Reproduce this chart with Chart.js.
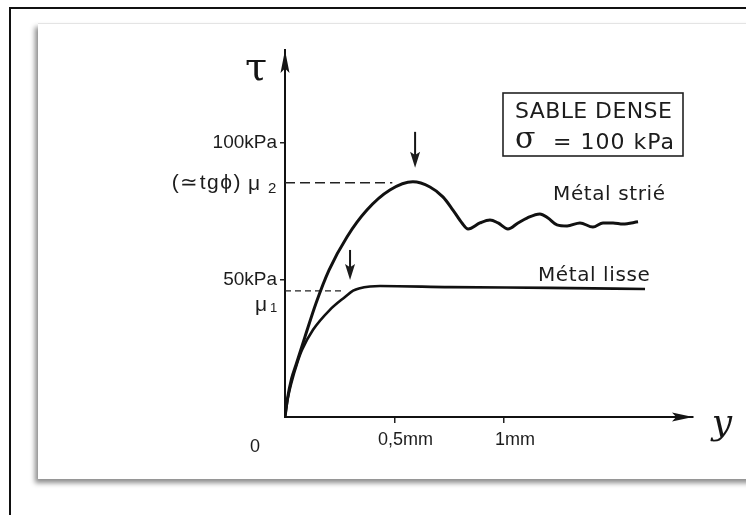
<!DOCTYPE html>
<html>
<head>
<meta charset="utf-8">
<script src="https://cdn.jsdelivr.net/npm/chart.js@4/dist/chart.umd.min.js"></script>
<style>
  html, body { margin: 0; padding: 0; background: #fff; width: 746px; height: 515px; overflow: hidden; }
  .frame { position: absolute; left: 9px; top: 7px; width: 780px; height: 560px; border-left: 2px solid #111; border-top: 2px solid #111; }
  .card { position: absolute; left: 38px; top: 23px; width: 780px; height: 455px; background: #fff;
          border-top: 1px solid #e4e4e4; box-shadow: -3px 4px 5px rgba(0,0,0,0.45); }
  #wrap { position: absolute; left: 0; top: 0; width: 746px; height: 515px; }
</style>
</head>
<body>
<div class="frame"></div>
<div class="card"></div>
<div id="wrap"><canvas id="c" width="746" height="515"></canvas></div>
<script>
// Axis ticks (displacement y in mm, shear stress tau in kPa)
const displacementTicks = [0.5, 1];
const displacementLabels = ['0,5mm', '1mm'];
const stressTicks = [50, 100];
const stressLabels = ['50kPa', '100kPa'];

// Striated metal interface: peak then oscillating residual
const striatedX = [0, 0.012, 0.030, 0.050, 0.091, 0.142, 0.201, 0.283, 0.374, 0.479, 0.584, 0.662, 0.721, 0.767, 0.808, 0.836,
                   0.890, 0.936, 0.973, 1.018, 1.064, 1.105, 1.164, 1.201, 1.242, 1.288, 1.347, 1.406, 1.452, 1.498, 1.543, 1.612];
const striatedY = [0, 7.0, 14.0, 19.0, 29.2, 41.6, 53.6, 65.7, 75.5, 82.8, 85.8, 83.9, 80.3, 75.5, 70.8, 68.6,
                   70.8, 71.9, 70.8, 68.6, 70.8, 72.6, 74.1, 72.6, 70.1, 69.7, 70.8, 69.3, 70.8, 70.8, 70.4, 71.2];

// Smooth metal interface: quick rise to a plateau
const smoothX = [0, 0.012, 0.031, 0.055, 0.078, 0.128, 0.205, 0.274, 0.311, 0.342, 0.388, 0.434, 0.753, 1.210, 1.644];
const smoothY = [0, 6.5, 13.0, 19.5, 24.5, 31.8, 39.1, 43.8, 46.1, 47.0, 47.6, 47.8, 47.4, 47.1, 46.7];

// Friction levels and how far their guide lines run
const mu2 = 85.5, mu2Reach = 0.49;
const mu1 = 46.0, mu1Reach = 0.27;

// Peak markers (downward arrows): x position and arrow tip level
const peakMarkerX = [0.594, 0.297];
const peakMarkerTip = [90.9, 50.0];

const curveNames = ['Métal strié', 'Métal lisse'];

const pts = (xs, ys) => xs.map((x, i) => ({ x: x, y: ys[i] }));

function arrowHead(ctx, tx, ty, dx, dy, len, hw) {
  const px = -dy, py = dx;
  ctx.beginPath();
  ctx.moveTo(tx, ty);
  ctx.lineTo(tx - dx * len + px * hw, ty - dy * len + py * hw);
  ctx.lineTo(tx - dx * len * 0.8, ty - dy * len * 0.8);
  ctx.lineTo(tx - dx * len - px * hw, ty - dy * len - py * hw);
  ctx.closePath();
  ctx.fill();
}

function spacing(ctx, v) { try { ctx.letterSpacing = v; } catch (e) {} }

const sketchAnnotations = {
  id: 'sketchAnnotations',
  afterDraw(chart) {
    const ctx = chart.ctx;
    const xs = chart.scales.x, ys = chart.scales.y;
    const a = chart.chartArea;
    const ink = '#151515';
    ctx.save();
    ctx.fillStyle = ink;
    ctx.strokeStyle = ink;

    // axis arrows
    arrowHead(ctx, a.right, a.bottom, 1, 0, 21, 4.5);
    arrowHead(ctx, a.left, a.top, 0, -1, 23, 4.5);

    // axis names
    ctx.textAlign = 'center';
    ctx.textBaseline = 'middle';
    ctx.font = '40px "DejaVu Serif"';
    ctx.fillText('τ', a.left - 29, a.top + 20);
    ctx.font = 'italic 36px "DejaVu Serif"';
    ctx.fillText('y', a.right + 29, a.bottom + 8);

    // origin label
    ctx.font = '18px "Liberation Sans"';
    ctx.fillStyle = '#1c1c1c';
    ctx.fillText('0', xs.getPixelForValue(0) - 30, a.bottom + 30);

    // friction level labels
    const y2 = ys.getPixelForValue(mu2);
    ctx.textAlign = 'left';
    ctx.font = '15px "Liberation Sans"';
    ctx.fillText('2', a.left - 17, y2 + 6);
    ctx.font = '21px "Liberation Sans"';
    ctx.fillText('μ', a.left - 37, y2 + 2);
    ctx.textAlign = 'right';
    spacing(ctx, '1.5px');
    ctx.fillText('(≃tgϕ)', a.left - 43, y2 + 1);
    spacing(ctx, '0px');

    const y1 = ys.getPixelForValue(mu1);
    ctx.textAlign = 'left';
    ctx.font = '21px "Liberation Sans"';
    ctx.fillText('μ', a.left - 30, y1 + 14);
    ctx.font = '13px "Liberation Sans"';
    ctx.fillText('1', a.left - 15, y1 + 18);

    // peak arrows
    ctx.lineWidth = 2;
    const shafts = [36, 30];
    peakMarkerX.forEach((v, i) => {
      const px = xs.getPixelForValue(v);
      const tip = ys.getPixelForValue(peakMarkerTip[i]);
      ctx.beginPath();
      ctx.moveTo(px, tip - shafts[i]);
      ctx.lineTo(px, tip - 8);
      ctx.stroke();
      arrowHead(ctx, px, tip, 0, 1, 16, 5);
    });

    // curve names
    ctx.fillStyle = '#1c1c1c';
    ctx.textAlign = 'left';
    ctx.textBaseline = 'middle';
    ctx.font = '20px "DejaVu Sans"';
    spacing(ctx, '0.6px');
    ctx.fillText(curveNames[0], xs.getPixelForValue(1.224), ys.getPixelForValue(81.0));
    ctx.fillText(curveNames[1], xs.getPixelForValue(1.155), ys.getPixelForValue(51.5));

    // test conditions box
    const bx = a.right - 190, by = a.top + 43, bw = 180, bh = 63;
    ctx.lineWidth = 1.6;
    ctx.strokeStyle = '#222';
    ctx.strokeRect(bx, by, bw, bh);
    ctx.font = '22px "DejaVu Sans"';
    spacing(ctx, '0.4px');
    ctx.fillText('SABLE DENSE', bx + 12, by + 19);
    spacing(ctx, '0px');
    ctx.font = '30px "DejaVu Serif"';
    ctx.fillText('σ', bx + 12, by + 47);
    ctx.font = '22px "DejaVu Sans"';
    spacing(ctx, '1px');
    ctx.fillText('= 100 kPa', bx + 50, by + 50);
    ctx.restore();
  }
};

const lineBase = { pointRadius: 0, pointHoverRadius: 0, fill: false };

new Chart(document.getElementById('c'), {
  type: 'line',
  data: {
    datasets: [
      Object.assign({ label: curveNames[0], data: pts(striatedX, striatedY), borderColor: '#111', borderWidth: 3,
                      cubicInterpolationMode: 'monotone' }, lineBase),
      Object.assign({ label: curveNames[1], data: pts(smoothX, smoothY), borderColor: '#111', borderWidth: 2.6,
                      cubicInterpolationMode: 'monotone' }, lineBase),
      Object.assign({ label: 'mu2', data: [{ x: 0, y: mu2 }, { x: mu2Reach, y: mu2 }], borderColor: '#222',
                      borderWidth: 1.5, borderDash: [10, 5] }, lineBase),
      Object.assign({ label: 'mu1', data: [{ x: 0, y: mu1 }, { x: mu1Reach, y: mu1 }], borderColor: '#222',
                      borderWidth: 1.2, borderDash: [6, 4] }, lineBase)
    ]
  },
  options: {
    responsive: false,
    animation: false,
    devicePixelRatio: 1,
    layout: { padding: { top: 50, right: 53, left: 0, bottom: 0 } },
    plugins: { legend: { display: false }, tooltip: { enabled: false } },
    scales: {
      x: {
        type: 'linear', min: 0, max: 1.863,
        afterFit(s) { s.height = 98; },
        afterBuildTicks(s) { s.ticks = displacementTicks.map(v => ({ value: v })); },
        ticks: {
          callback: (v) => displacementLabels[displacementTicks.indexOf(v)],
          font: { family: 'Liberation Sans', size: 18 }, color: '#1c1c1c',
          labelOffset: 11, padding: 6, autoSkip: false, maxRotation: 0
        },
        grid: { drawOnChartArea: false, drawTicks: true, tickLength: 6, color: '#222', lineWidth: 1.5 },
        border: { display: true, color: '#111', width: 2 }
      },
      y: {
        type: 'linear', min: 0, max: 133.9,
        afterFit(s) { s.width = 285; },
        afterBuildTicks(s) { s.ticks = stressTicks.map(v => ({ value: v })); },
        ticks: {
          callback: (v) => stressLabels[stressTicks.indexOf(v)],
          font: { family: 'Liberation Sans', size: 19 }, color: '#1c1c1c',
          padding: 3, autoSkip: false
        },
        grid: { drawOnChartArea: false, drawTicks: true, tickLength: 5, color: '#222', lineWidth: 1.5 },
        border: { display: true, color: '#111', width: 2 }
      }
    }
  },
  plugins: [sketchAnnotations]
});
</script>
</body>
</html>
